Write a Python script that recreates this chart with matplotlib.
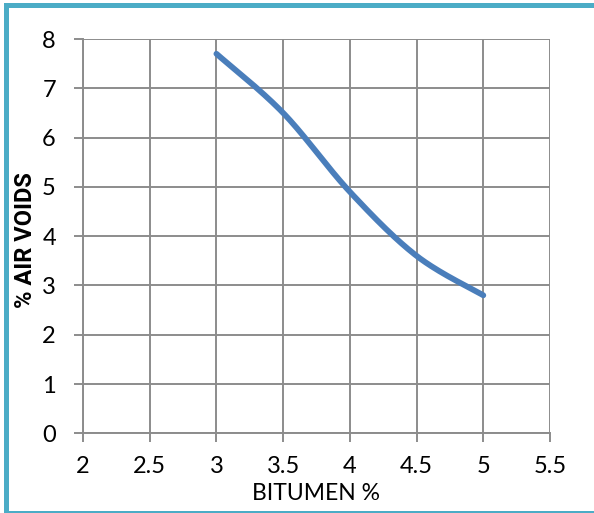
import numpy as np
import matplotlib
matplotlib.use("Agg")
import matplotlib.pyplot as plt
from matplotlib.patches import Rectangle

bitumen = [3.0, 3.5, 4.0, 4.5, 5.0]
air_voids = [7.7, 6.5, 4.9, 3.6, 2.8]
x_ticks = [2, 2.5, 3, 3.5, 4, 4.5, 5, 5.5]
x_tick_labels = ["2", "2.5", "3", "3.5", "4", "4.5", "5", "5.5"]
y_ticks = [0, 1, 2, 3, 4, 5, 6, 7, 8]

def excel_smooth(xs, ys, n=40):
    xs = np.asarray(xs, float); ys = np.asarray(ys, float)
    px = np.concatenate([[xs[0]], xs, [xs[-1]]])
    py = np.concatenate([[ys[0]], ys, [ys[-1]]])
    outx, outy = [], []
    t = np.linspace(0, 1, n)
    for i in range(1, len(px) - 2):
        p0 = np.array([px[i - 1], py[i - 1]]); p1 = np.array([px[i], py[i]])
        p2 = np.array([px[i + 1], py[i + 1]]); p3 = np.array([px[i + 2], py[i + 2]])
        c1 = p1 + (p2 - p0) / 6.0
        c2 = p2 - (p3 - p1) / 6.0
        b = ((1 - t) ** 3)[:, None] * p1 + (3 * (1 - t) ** 2 * t)[:, None] * c1 \
            + (3 * (1 - t) * t ** 2)[:, None] * c2 + (t ** 3)[:, None] * p2
        outx.extend(b[:, 0]); outy.extend(b[:, 1])
    return outx, outy

plt.rcParams['font.family'] = ['Lato', 'DejaVu Sans']

fig = plt.figure(figsize=(5.94, 5.13), dpi=100)
ax = fig.add_axes([83 / 594, 1 - 433.3 / 513, 467 / 594, 394.3 / 513])

sx, sy = excel_smooth(bitumen, air_voids)
ax.plot(sx, sy, color="#4A7EBB", lw=4.2, solid_capstyle="round", zorder=3)

ax.set_xlim(2, 5.5)
ax.set_ylim(0, 8)
ax.set_xticks(x_ticks)
ax.set_xticklabels(x_tick_labels)
ax.set_yticks(y_ticks)
grid_c = "#8C8C8C"
ax.grid(True, color=grid_c, lw=1.4)
ax.set_axisbelow(True)
for s in ax.spines.values():
    s.set_color(grid_c)
    s.set_linewidth(1.4)
ax.spines['top'].set_visible(False)
ax.spines['right'].set_visible(False)
ax.tick_params(axis='both', color=grid_c, width=1.4, length=6.5, labelsize=17, labelcolor="#000000")
ax.tick_params(axis='x', pad=10)
ax.tick_params(axis='y', pad=13)

ax.set_xlabel("BITUMEN %", fontsize=16.5, va="center")
ax.xaxis.set_label_coords(0.5, -(493 - 433.3) / 394.3)
ax.set_ylabel("% AIR VOIDS", fontsize=17, fontweight="bold",
              family=["Roboto", "DejaVu Sans"], va="center")
ax.yaxis.set_label_coords((26 - 83) / 467, (433.3 - 240) / 394.3)

fig.patches.append(Rectangle((5.5 / 594, 1 - 512.5 / 513), 590 / 594, 508 / 513,
                             transform=fig.transFigure, fill=False,
                             edgecolor="#4BACC6", lw=3.6, zorder=10))

fig.savefig("out.png", dpi=100)
